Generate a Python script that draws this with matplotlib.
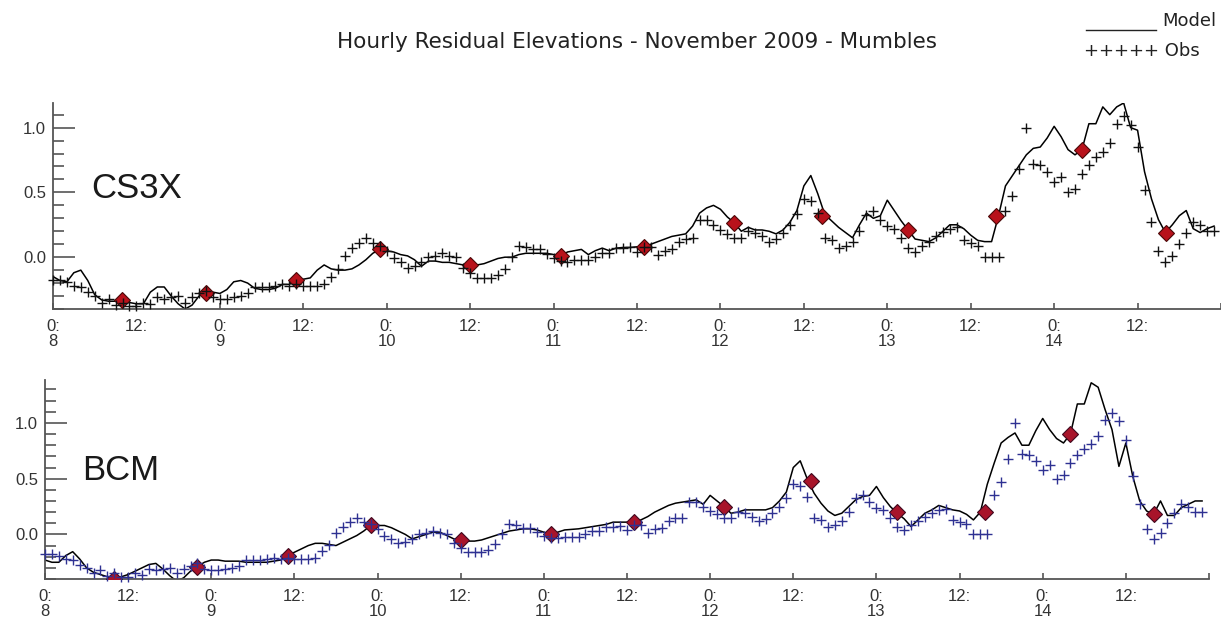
import numpy as np
import matplotlib
matplotlib.use("Agg")
import matplotlib.pyplot as plt
from matplotlib.lines import Line2D
from matplotlib.ticker import MultipleLocator

# hourly data from 0:00 on 8 November 2009
hours = np.arange(168)

obs = [
    -0.18, -0.18, -0.19, -0.22, -0.23, -0.27, -0.30, -0.35, -0.32, -0.37,
    -0.35, -0.38, -0.38, -0.35, -0.36, -0.31, -0.32, -0.31, -0.30, -0.35,
    -0.31, -0.28, -0.26, -0.31, -0.32, -0.32, -0.31, -0.30, -0.28, -0.23,
    -0.23, -0.23, -0.22, -0.21, -0.22, -0.21, -0.22, -0.22, -0.22, -0.21,
    -0.15, -0.095, 0.01, 0.07, 0.11, 0.15, 0.11, 0.09, 0.05, -0.01,
    -0.04, -0.08, -0.07, -0.04, 0.00, 0.01, 0.03, 0.01, 0.00, -0.08,
    -0.12, -0.16, -0.16, -0.16, -0.14, -0.09, 0.00, 0.09, 0.08, 0.06,
    0.06, 0.023, -0.01, -0.03, -0.036, -0.023, -0.023, -0.023, 0.00, 0.03,
    0.03, 0.07, 0.07, 0.075, 0.04, 0.08, 0.08, 0.016, 0.05, 0.06,
    0.12, 0.144, 0.15, 0.29, 0.29, 0.25, 0.21, 0.18, 0.15, 0.15,
    0.20, 0.19, 0.16, 0.12, 0.14, 0.19, 0.25, 0.33, 0.45, 0.43,
    0.34, 0.15, 0.13, 0.067, 0.085, 0.12, 0.20, 0.325, 0.355, 0.29,
    0.24, 0.22, 0.15, 0.067, 0.04, 0.085, 0.12, 0.16, 0.195, 0.22,
    0.23, 0.13, 0.11, 0.09, 0.00, 0.00, 0.00, 0.355, 0.47, 0.68,
    1.00, 0.72, 0.71, 0.66, 0.58, 0.62, 0.50, 0.53, 0.64, 0.71,
    0.77, 0.81, 0.88, 1.03, 1.09, 1.02, 0.85, 0.52, 0.27, 0.05,
    -0.04, 0.01, 0.10, 0.19, 0.27, 0.25, 0.20, 0.20,
]

model_cs3x = [
    -0.15, -0.18, -0.19, -0.12, -0.10, -0.18, -0.29, -0.33, -0.34, -0.34,
    -0.33, -0.35, -0.36, -0.36, -0.27, -0.23, -0.23, -0.30, -0.36, -0.40,
    -0.37, -0.30, -0.27, -0.27, -0.28, -0.25, -0.19, -0.18, -0.20, -0.24,
    -0.25, -0.25, -0.24, -0.21, -0.21, -0.18, -0.17, -0.16, -0.10, -0.06,
    -0.09, -0.10, -0.10, -0.09, -0.06, -0.02, 0.03, 0.06, 0.05, 0.04,
    0.02, 0.01, -0.02, -0.07, -0.03, -0.03, -0.04, -0.04, -0.05, -0.06,
    -0.06, -0.06, -0.05, -0.03, -0.01, 0.00, 0.00, 0.02, 0.03, 0.03,
    0.03, 0.03, 0.02, 0.01, 0.04, 0.05, 0.06, 0.02, 0.05, 0.07,
    0.05, 0.07, 0.075, 0.075, 0.08, 0.08, 0.10, 0.12, 0.14, 0.16,
    0.17, 0.18, 0.24, 0.34, 0.38, 0.40, 0.37, 0.31, 0.265, 0.20,
    0.23, 0.21, 0.21, 0.20, 0.18, 0.21, 0.27, 0.36, 0.55, 0.63,
    0.49, 0.33, 0.28, 0.23, 0.19, 0.15, 0.25, 0.34, 0.30, 0.32,
    0.44, 0.36, 0.28, 0.21, 0.14, 0.13, 0.12, 0.15, 0.20, 0.25,
    0.25, 0.22, 0.17, 0.13, 0.12, 0.12, 0.32, 0.55, 0.63, 0.71,
    0.79, 0.84, 0.85, 0.92, 1.01, 0.93, 0.83, 0.79, 0.83, 1.03,
    1.03, 1.16, 1.10, 1.16, 1.19, 1.00, 0.98, 0.66, 0.45, 0.29,
    0.19, 0.25, 0.32, 0.36, 0.22, 0.19, 0.22, 0.24,
]

model_bcm = [
    -0.23, -0.25, -0.25, -0.19, -0.155, -0.22, -0.30, -0.34, -0.36, -0.38,
    -0.40, -0.38, -0.36, -0.33, -0.30, -0.27, -0.26, -0.31, -0.37, -0.42,
    -0.39, -0.33, -0.29, -0.25, -0.23, -0.23, -0.24, -0.24, -0.24, -0.25,
    -0.25, -0.25, -0.25, -0.24, -0.23, -0.19, -0.16, -0.13, -0.10, -0.08,
    -0.08, -0.09, -0.10, -0.07, -0.04, -0.01, 0.03, 0.08, 0.08, 0.08,
    0.06, 0.03, 0.00, -0.04, -0.02, 0.00, 0.02, 0.02, -0.01, -0.04,
    -0.05, -0.06, -0.06, -0.05, -0.03, -0.01, 0.01, 0.03, 0.04, 0.05,
    0.05, 0.04, 0.02, 0.00, 0.02, 0.04, 0.045, 0.05, 0.06, 0.07,
    0.08, 0.09, 0.11, 0.11, 0.11, 0.11, 0.13, 0.16, 0.20, 0.23,
    0.26, 0.28, 0.29, 0.30, 0.31, 0.27, 0.35, 0.30, 0.25, 0.19,
    0.20, 0.22, 0.22, 0.22, 0.22, 0.24, 0.30, 0.38, 0.60, 0.66,
    0.50, 0.37, 0.28, 0.21, 0.17, 0.19, 0.25, 0.31, 0.34, 0.35,
    0.43, 0.33, 0.25, 0.19, 0.14, 0.07, 0.13, 0.19, 0.22, 0.26,
    0.24, 0.22, 0.21, 0.18, 0.13, 0.20, 0.45, 0.64, 0.82, 0.87,
    0.91, 0.80, 0.80, 0.93, 1.04, 0.94, 0.86, 0.82, 0.90, 1.17,
    1.17, 1.36, 1.32, 1.12, 0.94, 0.61, 0.82, 0.52, 0.30, 0.21,
    0.18, 0.30, 0.17, 0.17, 0.24, 0.27, 0.30, 0.30,
]

# high-water markers (hour, model value)
hw_hours = [9.9, 22.0, 35.0, 47.0, 60.0, 73.0, 85.0, 98.0, 110.6, 123.0, 135.6, 148.0, 160.1]
hw_cs3x = [-0.33, -0.28, -0.18, 0.06, -0.06, 0.01, 0.08, 0.265, 0.32, 0.21, 0.32, 0.83, 0.19]
hw_bcm = [-0.40, -0.29, -0.19, 0.08, -0.05, 0.00, 0.11, 0.25, 0.476, 0.20, 0.20, 0.90, 0.18]

tick_hours = [0, 12, 24, 36, 48, 60, 72, 84, 96, 108, 120, 132, 144, 156, 168]
tick_labels = ["0:\n8", "12:", "0:\n9", "12:", "0:\n10", "12:", "0:\n11", "12:",
               "0:\n12", "12:", "0:\n13", "12:", "0:\n14", "12:", ""]

W, H = 1221, 630
AXIS_C = "#555555"
TEXT_C = "#333333"
FONT = ["Liberation Sans", "DejaVu Sans"]


def px_axes(fig, x0, x1, y_top, y_bot):
    return fig.add_axes([x0 / W, 1 - y_bot / H, (x1 - x0) / W, (y_bot - y_top) / H])


def style(ax, ytop):
    ax.set_xlim(0, 168)
    ax.set_ylim(-0.40, ytop)
    for s in ("top", "right"):
        ax.spines[s].set_visible(False)
    for s in ("left", "bottom"):
        ax.spines[s].set_color(AXIS_C)
        ax.spines[s].set_linewidth(1.3)
    ax.set_xticks(tick_hours)
    ax.set_xticklabels(tick_labels, family=FONT, fontsize=12, color=TEXT_C,
                       linespacing=1.05)
    ax.set_yticks([0.0, 0.5, 1.0])
    ax.set_yticklabels(["0.0", "0.5", "1.0"], family=FONT, fontsize=12, color=TEXT_C)
    ax.yaxis.set_minor_locator(MultipleLocator(0.1))
    ax.tick_params(axis="x", direction="in", length=4, width=1.2, color=AXIS_C, pad=7)
    ax.tick_params(axis="y", which="major", direction="in", length=16, width=1.2,
                   color=AXIS_C, pad=5)
    ax.tick_params(axis="y", which="minor", direction="in", length=8, width=1.2,
                   color=AXIS_C)


fig = plt.figure(figsize=(W / 100, H / 100), dpi=100)

# ── top panel: CS3X ──
ax1 = px_axes(fig, 53, 1221, 103, 309)
style(ax1, 1.19)
ax1.plot(hours, model_cs3x, color="black", lw=1.1, zorder=2)
ax1.plot(hw_hours, hw_cs3x, ls="none", marker="D", ms=8, mfc="#B8121B",
         mec="#4a0808", mew=0.8, zorder=3)
ax1.plot(hours, obs, ls="none", marker="+", ms=6.5, mew=1.0, color="#111111",
         zorder=4, clip_on=False)
ax1.text(0.033, 0.585, "CS3X", transform=ax1.transAxes, family=FONT,
         fontsize=25, color="#1a1a1a", va="center", ha="left")

# ── bottom panel: BCM ──
ax2 = px_axes(fig, 45, 1209, 380, 579)
style(ax2, 1.385)
ax2.plot(hours, model_bcm, color="black", lw=1.1, zorder=2)
ax2.plot(hw_hours, hw_bcm, ls="none", marker="D", ms=8, mfc="#A8142A",
         mec="#40081e", mew=0.8, zorder=3)
ax2.plot(hours, obs, ls="none", marker="+", ms=6.5, mew=1.0, color="#2E3192",
         zorder=4, clip_on=False)
ax2.text(0.032, 0.545, "BCM", transform=ax2.transAxes, family=FONT,
         fontsize=25, color="#1a1a1a", va="center", ha="left")

# ── title and key ──
fig.text(637 / W, 1 - 42 / H, "Hourly Residual Elevations - November 2009 - Mumbles",
         ha="center", va="center", fontsize=15.5, color="#222222", family="DejaVu Sans")
fig.add_artist(Line2D([1086 / W, 1156 / W], [1 - 30 / H, 1 - 30 / H],
                      color="#222222", lw=1.0))
fig.text(1162 / W, 1 - 21 / H, "Model", ha="left", va="center", fontsize=13,
         color="#222222", family="DejaVu Sans")
fig.text(1084 / W, 1 - 51 / H, "+++++ Obs", ha="left", va="center", fontsize=13,
         color="#222222", family="DejaVu Sans")

fig.savefig("out.png", dpi=100)
